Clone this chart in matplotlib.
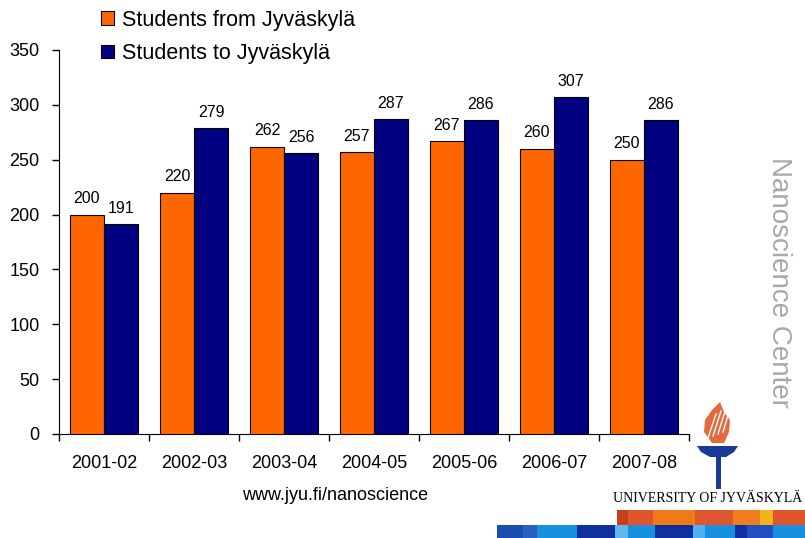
import numpy as np
import matplotlib.pyplot as plt
from matplotlib.patches import Rectangle, Polygon

plt.rcParams['font.family'] = ['Liberation Sans', 'DejaVu Sans']

years = ["2001-02", "2002-03", "2003-04", "2004-05", "2005-06", "2006-07", "2007-08"]
from_jyu = [200, 220, 262, 257, 267, 260, 250]
to_jyu = [191, 279, 256, 287, 286, 307, 286]

fig = plt.figure(figsize=(8.05, 5.38), dpi=100)
ax = fig.add_axes([59/805, 104/538, 630/805, 384/538])

x = np.arange(len(years))
w = 0.378
b1 = ax.bar(x - w/2, from_jyu, w, color='#ff6600', edgecolor='black', linewidth=0.8,
            label='Students from Jyväskylä', zorder=3)
b2 = ax.bar(x + w/2, to_jyu, w, color='#000080', edgecolor='black', linewidth=0.8,
            label='Students to Jyväskylä', zorder=3)
for bars in (b1, b2):
    for r in bars:
        ax.annotate(f"{int(r.get_height())}", (r.get_x() + r.get_width()/2, r.get_height()),
                    xytext=(0, 6), textcoords='offset points', ha='center', va='bottom',
                    fontsize=11.5)

ax.set_xlim(-0.5, 6.5)
ax.set_ylim(0, 350)
ax.set_yticks(range(0, 351, 50))
ax.set_xticks(np.arange(-0.5, 7, 1))
ax.set_xticklabels([])
ax.set_xticks(x, minor=True)
ax.set_xticklabels(years, minor=True)
ax.tick_params(axis='x', which='major', direction='out', length=5, width=1)
ax.tick_params(axis='x', which='minor', length=0, pad=15, labelsize=13)
ax.tick_params(axis='y', direction='out', length=5, width=1, pad=9, labelsize=13)
ax.spines['top'].set_visible(False)
ax.spines['right'].set_visible(False)

fig.legend(handles=[b1, b2], loc='upper left', bbox_to_anchor=(92/805, 1 - 1/538),
           frameon=False, fontsize=15.5, handlelength=0.6, handleheight=0.6,
           handletextpad=0.4, labelspacing=0.58, borderaxespad=0)

fig.text(335/805, 1 - 496/538, "www.jyu.fi/nanoscience", ha='center', va='center', fontsize=13)
fig.text(779/805, 1 - 282/538, "Nanoscience Center", rotation=-90, ha='center', va='center',
         fontsize=20, color='#a8a8a8')

# logo overlay in pixel coordinates
ov = fig.add_axes([0, 0, 1, 1])
ov.set_xlim(0, 805)
ov.set_ylim(538, 0)
ov.axis('off')

upper_edges = [617, 628, 653, 695, 733, 760, 773, 805]
upper_cols = ['#c8401a', '#e0552a', '#f07a1a', '#e0562e', '#f07d1e', '#f5b31a', '#e0562a']
for i, c in enumerate(upper_cols):
    ov.add_patch(Rectangle((upper_edges[i], 510), upper_edges[i+1] - upper_edges[i], 15,
                           color=c, lw=0))
lower_edges = [497, 523, 537, 577, 615, 628, 655, 693, 705, 735, 747, 773, 805]
lower_cols = ['#1a4fb0', '#2a60c0', '#1890e0', '#1030a0', '#60b8f0', '#1890e0',
              '#1030a0', '#50b0f0', '#1890e0', '#1030a0', '#2050c0', '#1890e0']
for i, c in enumerate(lower_cols):
    ov.add_patch(Rectangle((lower_edges[i], 525), lower_edges[i+1] - lower_edges[i], 13,
                           color=c, lw=0))

ov.text(613, 498, "UNIVERSITY OF JYVÄSKYLÄ", family=['Liberation Serif', 'DejaVu Serif'],
        fontsize=10, ha='left', va='center')

# torch
ov.add_patch(Polygon([(697, 446), (738, 446), (734, 452), (726, 457), (710, 457),
                      (701, 452)], closed=True, color='#1a3a9a', lw=0))
ov.add_patch(Rectangle((716, 456), 5, 33, color='#1a3a9a', lw=0))
ov.add_patch(Polygon([(712, 443), (704, 432), (705, 420), (712, 410), (720, 402),
                      (724, 412), (730, 420), (729, 432), (724, 443)], closed=True,
                     color='#e26a3c', lw=0))
for k in range(4):
    ov.plot([708 + k*5, 716 + k*5], [438 - k*2, 414 - k*3], color='white', lw=1.0)

fig.savefig("out.png", dpi=100)
